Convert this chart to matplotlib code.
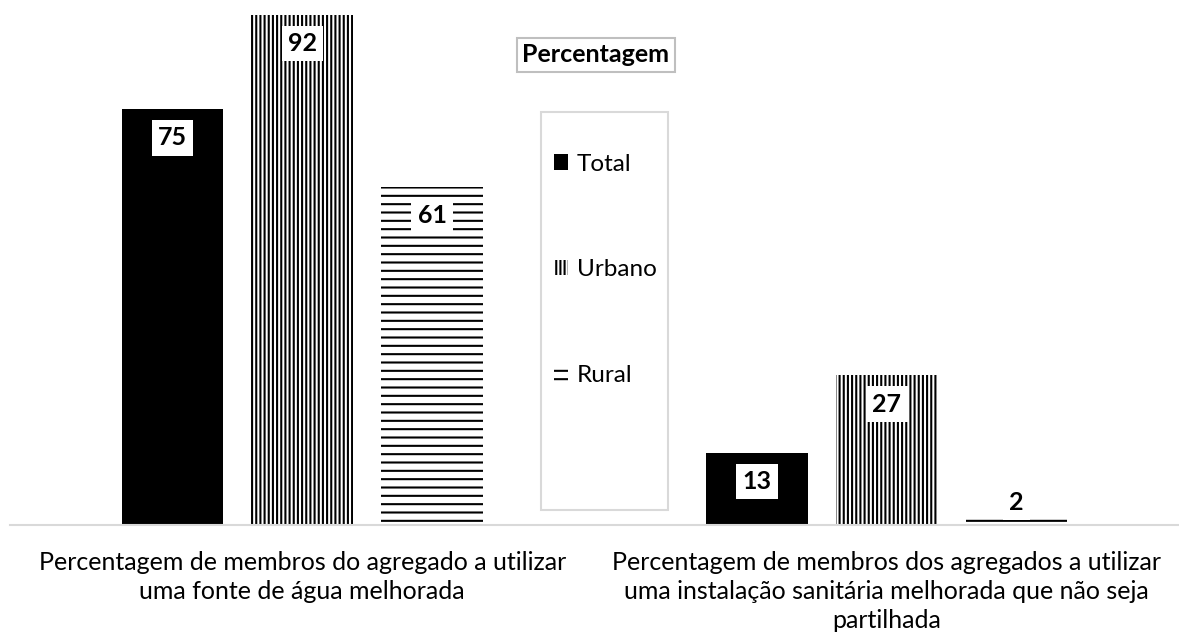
import matplotlib
matplotlib.use("Agg")
import matplotlib.pyplot as plt
from matplotlib.patches import Rectangle
import numpy as np

categories = [
    "Percentagem de membros do agregado a utilizar\numa fonte de água melhorada",
    "Percentagem de membros dos agregados a utilizar\numa instalação sanitária melhorada que não seja\npartilhada",
]
series_names = ["Total", "Urbano", "Rural"]
total = [75, 13]
urbano = [92, 27]
rural = [61, 2]

plt.rcParams['font.family'] = ['Lato', 'DejaVu Sans']
plt.rcParams['hatch.linewidth'] = 1.5

W, H = 1179, 636
fig = plt.figure(figsize=(W / 100, H / 100), dpi=100)
ax = fig.add_axes([10 / W, (H - 525) / H, (W - 10) / W, 525 / H])

x = np.arange(len(categories))
width = 0.174
step = 0.222
styles = [
    dict(color="black"),
    dict(facecolor="white", edgecolor="black", hatch="||||", linewidth=0),
    dict(facecolor="white", edgecolor="black", hatch="--", linewidth=0),
]
data = [total, urbano, rural]
for i, (vals, st, name) in enumerate(zip(data, styles, series_names)):
    ax.bar(x + (i - 1) * step, vals, width, label=name, **st)
    for xi, v in zip(x + (i - 1) * step, vals):
        ly = max(v - 5.2, 4.1)
        ax.text(xi, ly, str(v), ha="center", va="center", fontsize=18,
                fontweight="bold", color="black",
                bbox=dict(boxstyle="square,pad=0.25", facecolor="white",
                          edgecolor="none"), zorder=5)

ax.set_xlim(-0.5, 1.5)
ax.set_ylim(0, 94.65)
ax.set_yticks([])
ax.set_xticks(x)
ax.set_xticklabels(categories, fontsize=18, linespacing=1.32)
ax.tick_params(axis="x", length=0, pad=18.5)
for s in ["left", "right", "top"]:
    ax.spines[s].set_visible(False)
ax.spines["bottom"].set_color("#d9d9d9")
ax.spines["bottom"].set_linewidth(1.5)

# title box
fig.text(596 / W, 1 - 55 / H, "Percentagem", ha="center", va="center",
         fontsize=18, fontweight="bold",
         bbox=dict(boxstyle="square,pad=0.22", facecolor="white",
                   edgecolor="#bfbfbf", linewidth=1.5))

# legend frame
fig.patches.append(Rectangle((541 / W, 1 - 510 / H), (668 - 541) / W,
                             (510 - 112) / H, transform=fig.transFigure,
                             facecolor="white", edgecolor="#d9d9d9",
                             linewidth=1.5, zorder=0))
leg = fig.legend(loc="upper left", bbox_to_anchor=(544 / W, 1 - 144 / H),
                 frameon=False, fontsize=17.5, handlelength=0.6,
                 handleheight=0.6, handletextpad=0.35, labelspacing=3.48,
                 borderaxespad=0)

fig.savefig("out.png", dpi=100)
